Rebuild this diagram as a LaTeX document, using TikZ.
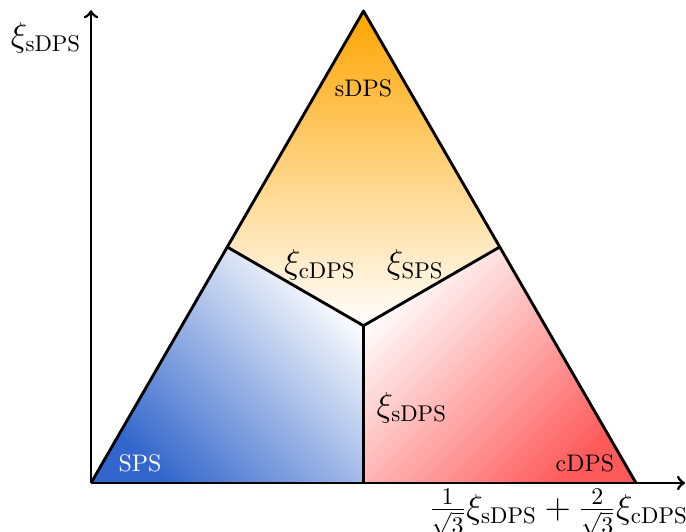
\documentclass[tikz,border=0pt]{standalone}
\usepackage{amsmath}
\usetikzlibrary{calc}
\definecolor{spsblue}{RGB}{51,102,204}
\definecolor{sdpsorange}{RGB}{255,165,0}
\definecolor{cdpsred}{RGB}{255,90,90}

\begin{document}
\begin{tikzpicture}[
        edge/.style={very thick, line join=round},
        axis/.style={->, very thick},
        region/.style={inner sep=0pt},
        order/.style={inner sep=0pt, font=\fontsize{13.6}{16}\selectfont}
    ]
        \useasboundingbox (-1.336,-0.719) rectangle (8.734,7.09);
        \coordinate (origin) at (0,0);
        \coordinate (top) at (4,6.928);
        \coordinate (right) at (8,0);
        \coordinate (center) at (4,2.309);
        \coordinate (midleft) at (2,3.464);
        \coordinate (midright) at (6,3.464);
        \coordinate (midbottom) at (4,0);
        \coordinate (yend) at (0,6.94);
        \coordinate (xend) at (8.72,0);
        
        % phase regions
        \shade[top color=sdpsorange, bottom color=white] (top) -- (midright) -- (center) -- (midleft) -- cycle;
        \shade[shading=axis, top color=white, bottom color=spsblue, shading angle=-45] (origin) -- (midleft) -- (center) -- (midbottom) -- cycle;
        \shade[shading=axis, top color=white, bottom color=cdpsred, shading angle=45] (midbottom) -- (center) -- (midright) -- (right) -- cycle;
        
        \draw[edge] (origin) -- (top) -- (right);
        \draw[edge] (midleft) -- (center) -- (midright);
        \draw[edge] (center) -- (midbottom);
        \draw[axis] (origin) -- (yend);
        \draw[axis] (origin) -- (xend);
        
        \node[region] (sdps) at (4,5.80) {sDPS};
        \node[region, white] (sps) at (0.72,0.29) {SPS};
        \node[region] (cdps) at (7.25,0.29) {cDPS};
        \node[order] (bndleft) at (3.36,3.20) {$\xi_{\text{cDPS}}$};
        \node[order] (bndright) at (4.76,3.20) {$\xi_{\text{SPS}}$};
        \node[order] (bndbottom) at (4.71,1.10) {$\xi_{\text{sDPS}}$};
        \node[order] (ylabel) at (-0.66,6.53) {$\xi_{\text{sDPS}}$};
        \node[order] (xlabel) at (6.86,-0.44) {$\frac{1}{\sqrt{3}}\xi_{\text{sDPS}}+\frac{2}{\sqrt{3}}\xi_{\text{cDPS}}$};
    \end{tikzpicture}
\end{document}
